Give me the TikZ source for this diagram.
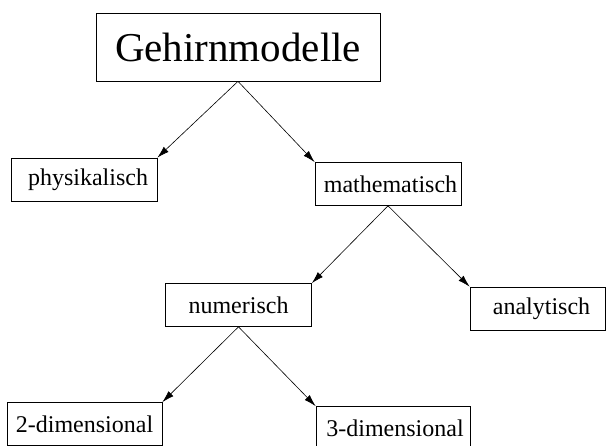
\documentclass[tikz,border=0pt]{standalone}
\usepackage{fontspec}
\setmainfont{Liberation Serif}
\usetikzlibrary{arrows.meta}

\begin{document}
\begin{tikzpicture}
      [x=1pt,y=-1pt,
       every node/.style={draw,line width=0.7pt,rectangle,inner sep=0pt,
         minimum height=43pt,minimum width=146pt,font=\fontsize{24}{28}\selectfont},
       link/.style={line width=0.6pt,-{Latex[length=12pt,width=7pt]}}]
      \useasboundingbox (0,0) rectangle (607,446);
      \node [minimum width=284pt,minimum height=68pt,
             font=\fontsize{41}{46}\selectfont] (gm) at (238,47) {Gehirnmodelle};
      \node (phys) at (84,179.5) {\hspace{8pt}physikalisch};
      \node (math) at (388,184) {\hspace{5pt}mathematisch};
      \node (num) at (238.5,305) {numerisch};
      \node [minimum width=135pt] (ana) at (537.5,308.5) {\hspace{8pt}analytisch};
      \node [minimum width=155pt] (zwei) at (84.5,424) {2-dimensional};
      \node [minimum width=154pt] (drei) at (393,428) {\hspace{4pt}3-dimensional};

      \foreach \from/\to in {gm.south/phys.north east, gm.south/math.north west,
                             math.south/num.north east, math.south/ana.north west,
                             num.south/zwei.north east, num.south/drei.north west}
      \draw [link] (\from) -- (\to);
    \end{tikzpicture}
\end{document}
